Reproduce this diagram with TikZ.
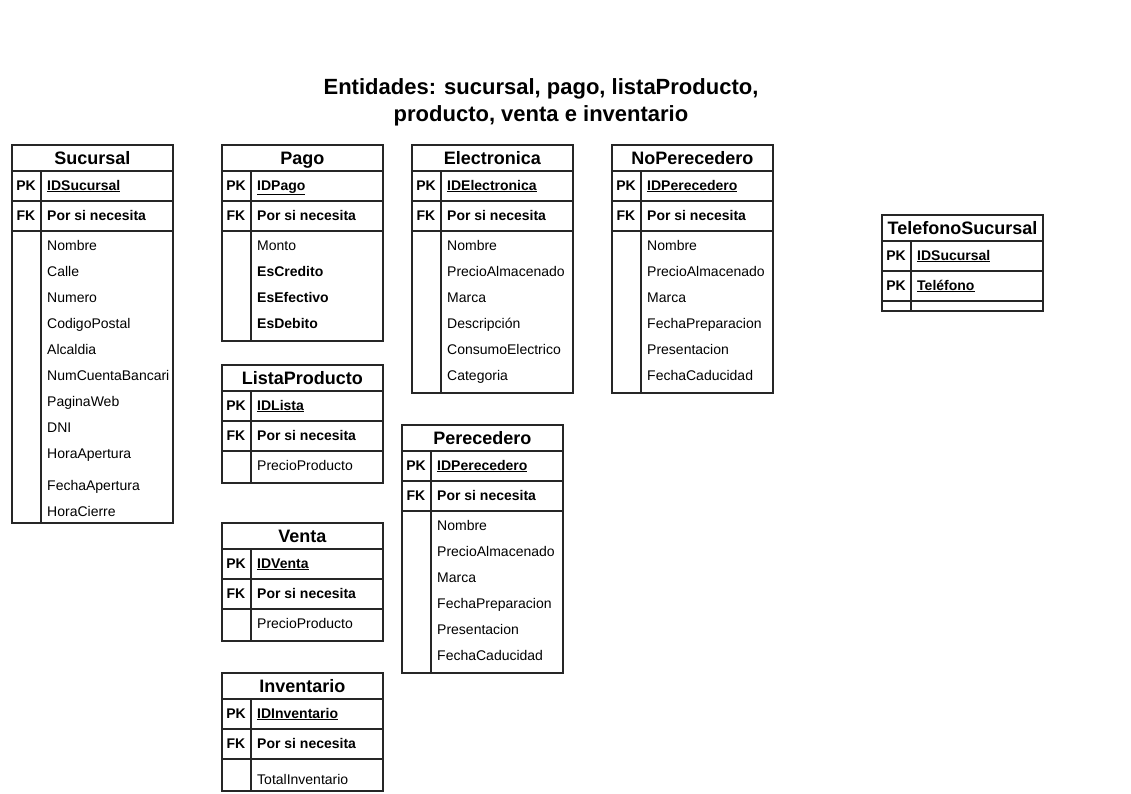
\documentclass[tikz,border=0pt]{standalone}
\usepackage{fontspec}
\setmainfont{Liberation Sans}
\newcommand\headbox[4]{%
  \node[tbox, minimum height=26pt] (#1) at (#2,#3) {};
  \node[ttl] (#1-t) at ([yshift=-20.5pt]#1.north) {#4};}
\newcommand\keyrow[5]{%
  \node[tbox, minimum height=30pt] (#1) at (#2,#3) {};
  \draw[tline] ([xshift=30pt]#1.north west) -- ([xshift=30pt]#1.south west);
  \node[lbl] (#1-k) at ([xshift=15pt,yshift=-20pt]#1.north west) {#4};
  \node[batt] (#1-n) at ([xshift=36pt,yshift=-20pt]#1.north west) {#5};}
\newcommand\attrbox[4]{%
  \node[tbox, minimum height=#4pt] (#1) at (#2,#3) {};
  \draw[tline] ([xshift=30pt]#1.north west) -- ([xshift=30pt]#1.south west);}
\begin{document}
\begin{tikzpicture}[x=1pt,y=-1pt,
  tline/.style={draw=black!85, line width=1.9pt},
  tbox/.style={tline, rectangle, inner sep=0pt, minimum width=161pt, anchor=north west},
  ttl/.style={font=\fontsize{18}{20}\selectfont\bfseries, inner sep=0pt, anchor=base},
  lbl/.style={font=\fontsize{14}{16}\selectfont\bfseries, inner sep=0pt, anchor=base},
  att/.style={font=\fontsize{14}{16}\selectfont, inner sep=0pt, anchor=base west},
  batt/.style={att, font=\fontsize{14}{16}\selectfont\bfseries},
  maintitle/.style={font=\fontsize{22}{27}\selectfont\bfseries, inner sep=0pt, anchor=base},
]
\useasboundingbox (0,0) rectangle (1131,793);

\node[maintitle] (title1) at (541,94) {Entidades: sucursal, pago, listaProducto,};
\node[maintitle] (title2) at (541,121) {producto, venta e inventario};

% Sucursal
\headbox{suc}{11}{144}{Sucursal}
\keyrow{sucpk}{11}{170}{PK}{\underline{IDSucursal}}
\keyrow{sucfk}{11}{200}{FK}{Por si necesita}
\attrbox{suca}{11}{230}{292}
\node[att] (suc1) at (47,250) {Nombre};
\node[att] (suc2) at (47,276) {Calle};
\node[att] (suc3) at (47,302) {Numero};
\node[att] (suc4) at (47,328) {CodigoPostal};
\node[att] (suc5) at (47,354) {Alcaldia};
\node[att] (suc6) at (47,380) {NumCuentaBancari};
\node[att] (suc7) at (47,406) {PaginaWeb};
\node[att] (suc8) at (47,432) {DNI};
\node[att] (suc9) at (47,458) {HoraApertura};
\node[att] (suc10) at (47,490) {FechaApertura};
\node[att] (suc11) at (47,516) {HoraCierre};

% Pago
\headbox{pag}{221}{144}{Pago}
\keyrow{pagpk}{221}{170}{PK}{\underline{IDPago}}
\keyrow{pagfk}{221}{200}{FK}{Por si necesita}
\attrbox{paga}{221}{230}{110}
\node[att] (pag1) at (257,250) {Monto};
\node[batt] (pag2) at (257,276) {EsCredito};
\node[batt] (pag3) at (257,302) {EsEfectivo};
\node[batt] (pag4) at (257,328) {EsDebito};

% ListaProducto
\headbox{lis}{221}{364}{ListaProducto}
\keyrow{lispk}{221}{390}{PK}{\underline{IDLista}}
\keyrow{lisfk}{221}{420}{FK}{Por si necesita}
\attrbox{lisa}{221}{450}{32}
\node[att] (lis1) at (257,470) {PrecioProducto};

% Venta
\headbox{ven}{221}{522}{Venta}
\keyrow{venpk}{221}{548}{PK}{\underline{IDVenta}}
\keyrow{venfk}{221}{578}{FK}{Por si necesita}
\attrbox{vena}{221}{608}{32}
\node[att] (ven1) at (257,628) {PrecioProducto};

% Inventario
\headbox{inv}{221}{672}{Inventario}
\keyrow{invpk}{221}{698}{PK}{\underline{IDInventario}}
\keyrow{invfk}{221}{728}{FK}{Por si necesita}
\attrbox{inva}{221}{758}{32}
\node[att] (inv1) at (257,784) {TotalInventario};

% Electronica
\headbox{ele}{411}{144}{Electronica}
\keyrow{elepk}{411}{170}{PK}{\underline{IDElectronica}}
\keyrow{elefk}{411}{200}{FK}{Por si necesita}
\attrbox{elea}{411}{230}{162}
\node[att] (ele1) at (447,250) {Nombre};
\node[att] (ele2) at (447,276) {PrecioAlmacenado};
\node[att] (ele3) at (447,302) {Marca};
\node[att] (ele4) at (447,328) {Descripción};
\node[att] (ele5) at (447,354) {ConsumoElectrico};
\node[att] (ele6) at (447,380) {Categoria};

% NoPerecedero
\headbox{nop}{611}{144}{NoPerecedero}
\keyrow{noppk}{611}{170}{PK}{\underline{IDPerecedero}}
\keyrow{nopfk}{611}{200}{FK}{Por si necesita}
\attrbox{nopa}{611}{230}{162}
\node[att] (nop1) at (647,250) {Nombre};
\node[att] (nop2) at (647,276) {PrecioAlmacenado};
\node[att] (nop3) at (647,302) {Marca};
\node[att] (nop4) at (647,328) {FechaPreparacion};
\node[att] (nop5) at (647,354) {Presentacion};
\node[att] (nop6) at (647,380) {FechaCaducidad};

% Perecedero
\headbox{per}{401}{424}{Perecedero}
\keyrow{perpk}{401}{450}{PK}{\underline{IDPerecedero}}
\keyrow{perfk}{401}{480}{FK}{Por si necesita}
\attrbox{pera}{401}{510}{162}
\node[att] (per1) at (437,530) {Nombre};
\node[att] (per2) at (437,556) {PrecioAlmacenado};
\node[att] (per3) at (437,582) {Marca};
\node[att] (per4) at (437,608) {FechaPreparacion};
\node[att] (per5) at (437,634) {Presentacion};
\node[att] (per6) at (437,660) {FechaCaducidad};

% TelefonoSucursal
\headbox{tel}{881}{214}{TelefonoSucursal}
\keyrow{telpk1}{881}{240}{PK}{\underline{IDSucursal}}
\keyrow{telpk2}{881}{270}{PK}{\underline{Teléfono}}
\attrbox{tela}{881}{300}{10}
\end{tikzpicture}
\end{document}
